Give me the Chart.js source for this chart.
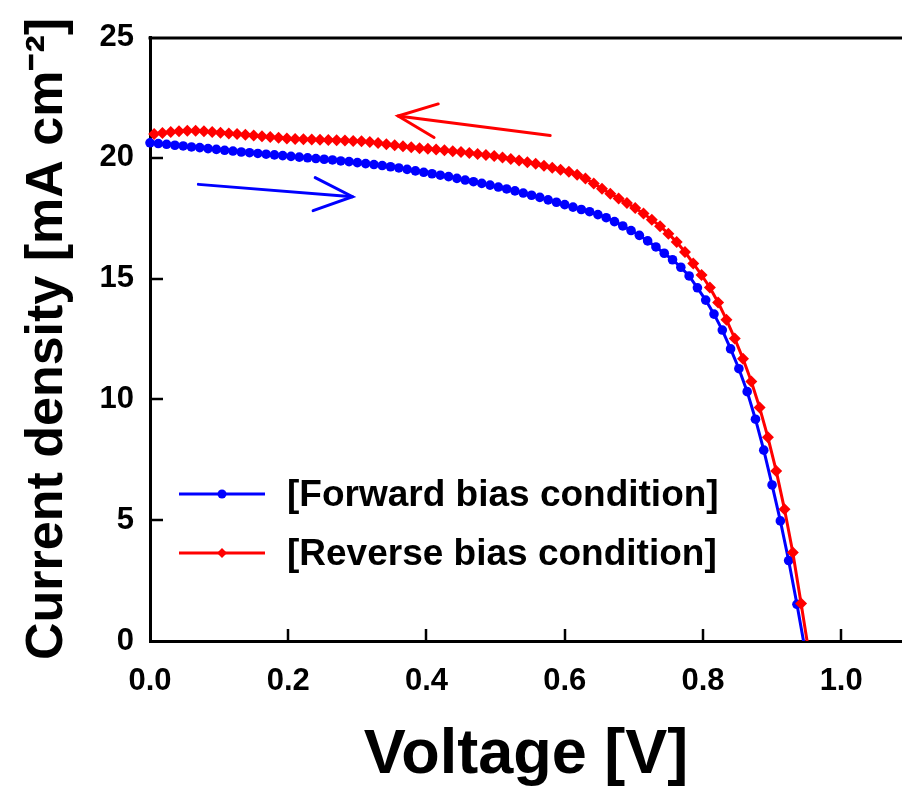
<!DOCTYPE html>
<html><head><meta charset="utf-8">
<script src="https://cdn.jsdelivr.net/npm/chart.js@4.4.0/dist/chart.umd.min.js"></script>
<style>html,body{margin:0;padding:0;background:#fff;overflow:hidden}#wrap{width:902px;height:794px}</style>
</head><body><div id="wrap"><canvas id="c" width="902" height="794"></canvas></div>
<script>
const seriesLabels = ['[Forward bias condition]', '[Reverse bias condition]'];
const forwardVoltage = [0,0.012,0.024,0.036,0.048,0.060,0.072,0.084,0.096,0.108,
 0.120,0.132,0.144,0.156,0.168,0.180,0.192,0.204,0.216,0.228,
 0.240,0.252,0.264,0.276,0.288,0.300,0.312,0.324,0.336,0.348,
 0.360,0.372,0.384,0.396,0.408,0.420,0.432,0.444,0.456,0.468,
 0.480,0.492,0.504,0.516,0.528,0.540,0.552,0.564,0.576,0.588,
 0.600,0.612,0.624,0.636,0.648,0.660,0.672,0.684,0.696,0.708,
 0.720,0.732,0.744,0.756,0.768,0.780,0.792,0.804,0.816,0.828,
 0.840,0.852,0.864,0.876,0.888,0.900,0.912,0.924,0.936,0.948];
const forwardCurrent = [20.62,20.59,20.56,20.52,20.49,20.45,20.42,20.38,20.35,20.31,
 20.28,20.24,20.21,20.18,20.15,20.12,20.09,20.06,20.03,20.00,
 19.97,19.94,19.91,19.87,19.84,19.80,19.76,19.72,19.68,19.63,
 19.58,19.52,19.46,19.40,19.34,19.28,19.22,19.15,19.08,19.01,
 18.94,18.87,18.79,18.71,18.63,18.54,18.45,18.36,18.26,18.16,
 18.06,17.96,17.86,17.77,17.65,17.52,17.36,17.18,16.99,16.79,
 16.56,16.31,16.05,15.78,15.47,15.11,14.62,14.11,13.53,12.87,
 12.09,11.27,10.32,9.18,7.90,6.46,4.97,3.33,1.52,-0.40];
const reverseVoltage = [0.006,0.018,0.030,0.042,0.054,0.066,0.078,0.090,0.102,0.114,
 0.126,0.138,0.150,0.162,0.174,0.186,0.198,0.210,0.222,0.234,
 0.246,0.258,0.270,0.282,0.294,0.306,0.318,0.330,0.342,0.354,
 0.366,0.378,0.390,0.402,0.414,0.426,0.438,0.450,0.462,0.474,
 0.486,0.498,0.510,0.522,0.534,0.546,0.558,0.570,0.582,0.594,
 0.606,0.618,0.630,0.642,0.654,0.666,0.678,0.690,0.702,0.714,
 0.726,0.738,0.750,0.762,0.774,0.786,0.798,0.810,0.822,0.834,
 0.846,0.858,0.870,0.882,0.894,0.906,0.918,0.930,0.942,0.954];
const reverseCurrent = [20.98,21.03,21.07,21.10,21.12,21.12,21.10,21.07,21.04,21.01,
 20.98,20.95,20.92,20.89,20.86,20.83,20.80,20.78,20.77,20.76,
 20.75,20.74,20.73,20.72,20.70,20.68,20.65,20.61,20.56,20.52,
 20.48,20.44,20.40,20.37,20.34,20.31,20.27,20.24,20.20,20.16,
 20.12,20.07,20.01,19.95,19.89,19.82,19.75,19.67,19.59,19.51,
 19.42,19.30,19.14,18.94,18.72,18.51,18.32,18.13,17.92,17.69,
 17.44,17.17,16.86,16.51,16.10,15.63,15.15,14.63,14.01,13.30,
 12.52,11.68,10.74,9.66,8.43,7.04,5.45,3.66,1.55,-0.60];
const xTickValues = [0,0.2,0.4,0.6,0.8,1.0];
const yTickValues = [0,5,10,15,20,25];
// sweep-direction arrows in data units: tail, tip, arm1, arm2
const forwardArrow = [[0.070,18.90],[0.293,18.39],[0.239,19.18],[0.236,17.81]];
const reverseArrow = [[0.579,20.92],[0.359,21.73],[0.417,22.23],[0.411,20.84]];

const FONT = '"Liberation Sans", Arial, Helvetica, sans-serif';
const BLUE = '#0000ff', RED = '#ff0000';

const toPts = (xs, ys) => xs.map((v, i) => ({x: v, y: ys[i]}));

const decor = {
  id: 'decor',
  afterDraw(chart) {
    const {ctx, chartArea: a, scales: {x, y}} = chart;
    ctx.save();
    ctx.strokeStyle = '#000';
    ctx.lineCap = 'butt';
    ctx.lineWidth = 3;
    ctx.beginPath(); ctx.moveTo(a.left - 1.5, a.top + 1); ctx.lineTo(chart.width, a.top + 1); ctx.stroke();
    ctx.lineWidth = 2.5;
    xTickValues.forEach(v => {
      if (v === 0) return;
      const px = Math.round(x.getPixelForValue(v));
      ctx.beginPath(); ctx.moveTo(px, a.bottom); ctx.lineTo(px, a.bottom - 12); ctx.stroke();
    });
    yTickValues.forEach(v => {
      if (v === 0 || v === 25) return;
      const py = Math.round(y.getPixelForValue(v));
      ctx.beginPath(); ctx.moveTo(a.left, py); ctx.lineTo(a.left + 13, py); ctx.stroke();
    });
    const drawArrow = (arr, color) => {
      const p = arr.map(([vx, vy]) => [x.getPixelForValue(vx), y.getPixelForValue(vy)]);
      ctx.strokeStyle = color; ctx.lineWidth = 3; ctx.lineCap = 'round';
      ctx.beginPath(); ctx.moveTo(p[0][0], p[0][1]); ctx.lineTo(p[1][0], p[1][1]); ctx.stroke();
      ctx.beginPath(); ctx.moveTo(p[2][0], p[2][1]); ctx.lineTo(p[1][0], p[1][1]); ctx.lineTo(p[3][0], p[3][1]); ctx.stroke();
    };
    drawArrow(forwardArrow, BLUE);
    drawArrow(reverseArrow, RED);
    const rows = [494, 553];
    chart.data.datasets.slice().sort((d1, d2) => d1.legendIndex - d2.legendIndex).forEach((ds, i) => {
      const yy = rows[i];
      ctx.strokeStyle = ds.borderColor; ctx.lineWidth = 3; ctx.lineCap = 'butt';
      ctx.beginPath(); ctx.moveTo(179, yy); ctx.lineTo(265, yy); ctx.stroke();
      ctx.fillStyle = ds.borderColor;
      ctx.beginPath();
      if (ds.pointStyle === 'rectRot') {
        const r = 5;
        ctx.moveTo(222, yy - r); ctx.lineTo(222 + r, yy); ctx.lineTo(222, yy + r); ctx.lineTo(222 - r, yy);
        ctx.closePath();
      } else {
        ctx.arc(222, yy, 4.5, 0, Math.PI * 2);
      }
      ctx.fill();
      ctx.fillStyle = '#000';
      ctx.font = 'bold 37px ' + FONT;
      ctx.textBaseline = 'middle';
      ctx.textAlign = 'left';
      ctx.fillText(ds.label, 287, yy + 2);
    });
    ctx.restore();
  }
};

new Chart(document.getElementById('c'), {
  type: 'line',
  data: {
    datasets: [
      {label: seriesLabels[1], legendIndex: 1, data: toPts(reverseVoltage, reverseCurrent), borderColor: RED, backgroundColor: RED,
       pointStyle: 'rectRot', pointRadius: 6, pointBorderWidth: 0, borderWidth: 3, order: 0,
       clip: {left: 8, top: 8, right: 8, bottom: 0}},
      {label: seriesLabels[0], legendIndex: 0, data: toPts(forwardVoltage, forwardCurrent), borderColor: BLUE, backgroundColor: BLUE,
       pointStyle: 'circle', pointRadius: 4.8, pointBorderWidth: 0, borderWidth: 3, order: 1,
       clip: {left: 8, top: 8, right: 8, bottom: 0}}
    ]
  },
  options: {
    responsive: false,
    animation: false,
    devicePixelRatio: 1,
    layout: {autoPadding: false, padding: {top: 37, right: 0, bottom: 0, left: 0}},
    plugins: {legend: {display: false}, tooltip: {enabled: false}},
    elements: {line: {tension: 0}},
    scales: {
      x: {
        type: 'linear', min: 0, max: 1.088,
        afterBuildTicks: s => { s.ticks = xTickValues.map(v => ({value: v})); },
        afterFit: s => { s.height = 153; s.paddingLeft = 0; s.paddingRight = 0; },
        grid: {display: true, drawOnChartArea: false, drawTicks: false},
        border: {display: true, width: 3, color: '#000'},
        ticks: {color: '#000', padding: 22, maxRotation: 0, autoSkip: false,
                font: {family: FONT, size: 31, weight: 'bold'},
                callback: v => Number(v).toFixed(1)},
        title: {display: true, text: 'Voltage [V]', color: '#000',
                font: {family: FONT, size: 63, weight: 'bold', lineHeight: 1},
                padding: {top: 0, bottom: 7}}
      },
      y: {
        type: 'linear', min: 0, max: 25,
        afterBuildTicks: s => { s.ticks = yTickValues.map(v => ({value: v})); },
        afterFit: s => { s.width = 150; s.paddingTop = 0; s.paddingBottom = 0; },
        grid: {display: true, drawOnChartArea: false, drawTicks: false},
        border: {display: true, width: 3, color: '#000'},
        ticks: {color: '#000', padding: 16,
                font: {family: FONT, size: 31, weight: 'bold'},
                callback: v => String(v)},
        title: {display: true, text: 'Current density [mA cm\u207B\u00B2]', color: '#000',
                font: {family: FONT, size: 52, weight: 'bold', lineHeight: 1},
                padding: {top: 22, bottom: 0}}
      }
    }
  },
  plugins: [decor]
});
</script>
</body></html>
